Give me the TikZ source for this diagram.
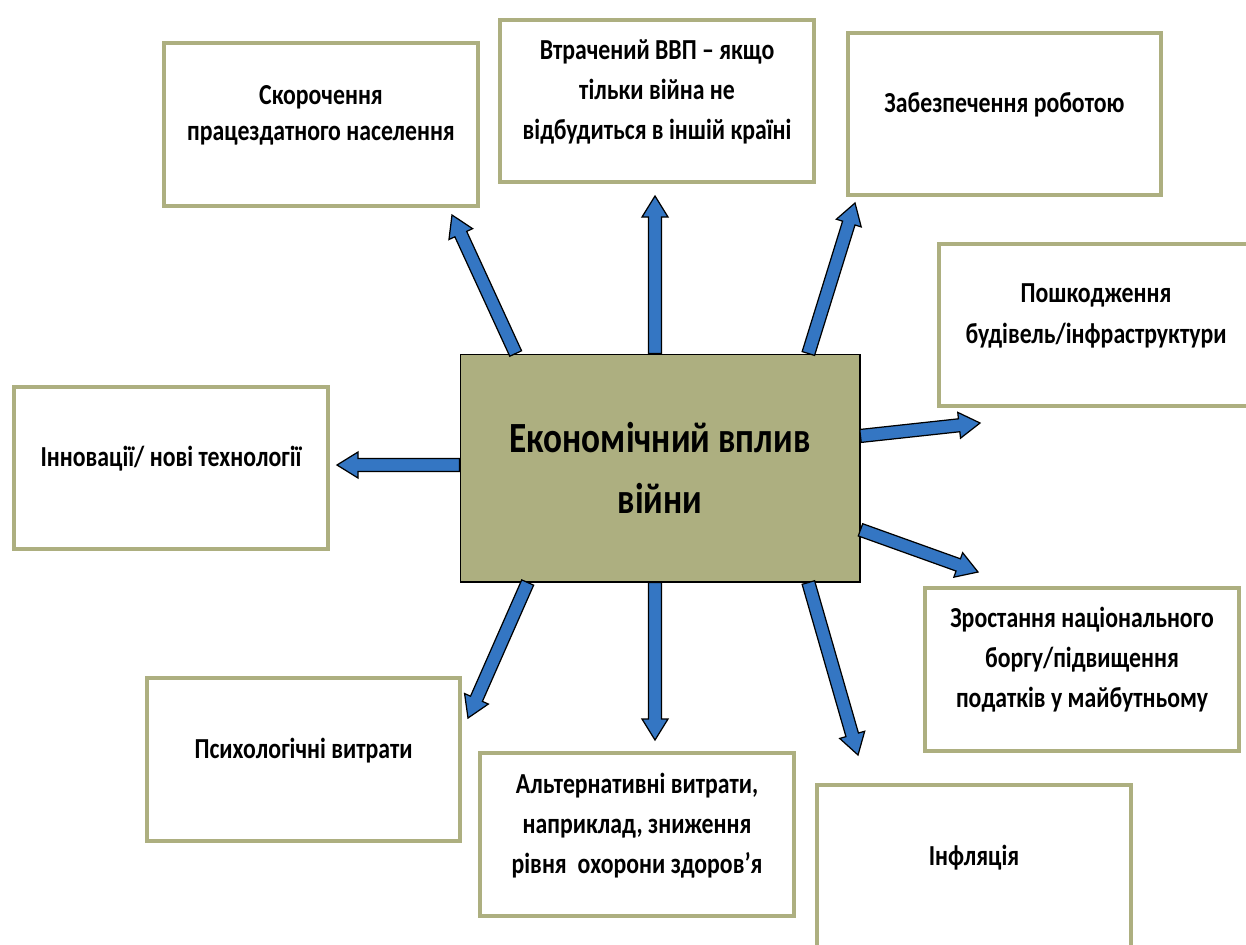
\documentclass[tikz,border=0pt]{standalone}
\usepackage{fontspec}
\setmainfont{Carlito}[FakeStretch=0.82]
\usetikzlibrary{positioning, calc}

\definecolor{boxolive}{RGB}{173,175,128}
\definecolor{arrowblue}{RGB}{52,118,195}

\tikzset{
  effect/.style={draw=boxolive, line width=0.08cm, fill=white,
    minimum width=6.28cm, minimum height=3.26cm, align=center, text depth=13pt,
    font=\bfseries\fontsize{16.5}{22.8}\selectfont},
  core/.style={draw=black, line width=0.6pt, fill=boxolive,
    minimum width=8cm, minimum height=4.56cm, align=center,
    font=\bfseries\fontsize{24.5}{35}\selectfont},
  blockarr/.style={fill=arrowblue, draw=black, line width=0.7pt, line join=miter}
}

% block arrow from #1 to #2
\newcommand{\blockarrow}[2]{%
  \coordinate (neck) at ($(#2)!0.42cm!(#1)$);
  \filldraw[blockarr]
    ($(#1)!0.13cm!90:(#2)$) -- ($(neck)!0.13cm!90:(#2)$)
    -- ($(neck)!0.26cm!90:(#2)$) -- (#2)
    -- ($(neck)!0.26cm!-90:(#2)$) -- ($(neck)!0.13cm!-90:(#2)$)
    -- ($(#1)!0.13cm!-90:(#2)$) -- cycle;}

\begin{document}
\begin{tikzpicture}[x=0.02cm, y=-0.02cm]
  \useasboundingbox (0,0) rectangle (1246,944);

  \node[core] (eco) at (660,468) {Економічний вплив\\війни};

  \node[effect, font=\bfseries\fontsize{16.5}{20.5}\selectfont] (labour) at (321,124.5) {Скорочення\\працездатного населення};
  \node[effect] (gdp) at (657,101) {Втрачений ВВП -- якщо\\тільки війна не\\відбудиться в іншій країні};
  \node[effect] (jobs) at (1004.5,114) {Забезпечення роботою};
  \node[effect] (damage) at (1096,325) {Пошкодження\\будівель/інфраструктури};
  \node[effect] (innov) at (171,468) {Інновації/ нові технології};
  \node[effect] (debt) at (1082,669) {Зростання національного\\боргу/підвищення\\податків у майбутньому};
  \node[effect] (psych) at (303.5,759.5) {Психологічні витрати};
  \node[effect] (alt) at (637,834.5) {Альтернативні витрати,\\наприклад, зниження\\рівня~ охорони здоров’я};
  \node[effect] (infl) at (974,866.5) {Інфляція};

  % arrow starts on the core box
  \coordinate (s1) at ($(eco.north west)!0.14!(eco.north east)$);
  \coordinate (s2) at ($(eco.north west)!0.4875!(eco.north east)$);
  \coordinate (s3) at ($(eco.north west)!0.87!(eco.north east)$);
  \coordinate (s4) at ($(eco.north east)!0.36!(eco.south east)$);
  \coordinate (s5) at ($(eco.north west)!0.487!(eco.south west)$);
  \coordinate (s6) at ($(eco.north east)!0.77!(eco.south east)$);
  \coordinate (s7) at ($(eco.south west)!0.17!(eco.south east)$);
  \coordinate (s8) at ($(eco.south west)!0.4875!(eco.south east)$);
  \coordinate (s9) at ($(eco.south west)!0.87!(eco.south east)$);

  % arrow tips
  \coordinate (e1) at (452,215);
  \coordinate (e2) at (655,196);
  \coordinate (e3) at (855,203);
  \coordinate (e4) at (980,423);
  \coordinate (e5) at (337,465);
  \coordinate (e6) at (978,572);
  \coordinate (e7) at (468,718);
  \coordinate (e8) at (655,740);
  \coordinate (e9) at (858,755);

  \blockarrow{s1}{e1}
  \blockarrow{s2}{e2}
  \blockarrow{s3}{e3}
  \blockarrow{s4}{e4}
  \blockarrow{s5}{e5}
  \blockarrow{s6}{e6}
  \blockarrow{s7}{e7}
  \blockarrow{s8}{e8}
  \blockarrow{s9}{e9}
\end{tikzpicture}
\end{document}
